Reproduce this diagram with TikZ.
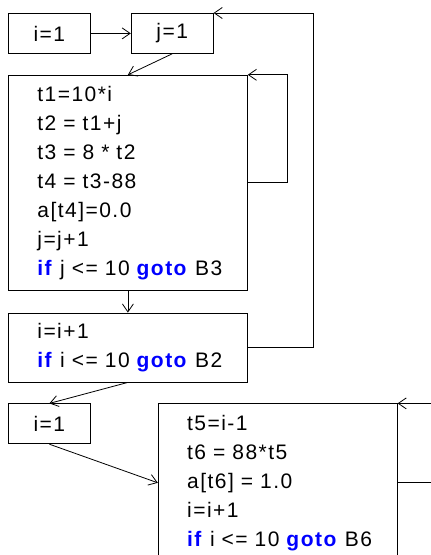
\documentclass[tikz,border=0pt]{standalone}
\usepackage{fontspec}
\setmainfont[LetterSpace=7]{Liberation Sans}
\usepackage{tikz}
\usetikzlibrary{arrows.meta,positioning}

\newcommand{\kw}[1]{\textcolor{blue}{\textbf{#1}}}

\begin{document}
\begin{tikzpicture}[
    x=1pt, y=-1pt,
    line width=0.8pt,
    init/.style={draw, rectangle, minimum width=82pt, minimum height=40pt, inner sep=0pt, font=\fontsize{21}{29}\selectfont},
    block/.style={draw, rectangle, text width=181pt, inner xsep=29pt, inner ysep=0pt, align=left, font=\fontsize{21}{29}\selectfont},
    pointer/.style={-{Straight Barb[length=8pt,width=11pt]}}
]
    \useasboundingbox (0,0) rectangle (431,555);

    % Initialisation
    \node[init, anchor=north west] (b1) at (8,13) {i=1};
    \node[init, right=40pt of b1] (b2) {j=1};

    % Inner loop body
    \node[block, minimum height=215pt, below=21pt of b1.south west, anchor=north west] (b3)
        {t1=10*i\\ t2 = t1+j\\ t3 = 8 * t2\\ t4 = t3-88\\ a[t4]=0.0\\ j=j+1\\ \kw{if}~j~<=~10~\kw{goto}~B3};

    % Outer loop test
    \node[block, minimum height=69pt, below=22pt of b3.south west, anchor=north west] (b4)
        {i=i+1\\ \kw{if}~i~<=~10~\kw{goto}~B2};

    % Second loop
    \node[init, below=21pt of b4.south west, anchor=north west] (b5) {i=1};
    \node[block, minimum height=158pt, right=67pt of b5.north east, anchor=north west] (b6)
        {t5=i-1\\ t6 = 88*t5\\ a[t6] = 1.0\\ i=i+1\\ \kw{if}~i~<=~10~\kw{goto}~B6};

    % Flow edges
    \draw[pointer] (b1.east) -- (b2.west);
    \draw[pointer] (b2.south) -- (b3.north);
    \draw[pointer] (b3.south) -- (b4.north);
    \draw[pointer] (b4.south) -- (b5.north);
    \draw[pointer] (b5.south) -- (b6.west);

    % Back edges
    \draw[pointer] (b3.east) -- ++(40,0) |- (b3.north east);
    \draw[pointer] (b4.east) -- ++(66,0) |- (b2.north east);
    \draw[pointer] (b6.east) -- ++(45,0) |- (b6.north east);
\end{tikzpicture}
\end{document}
